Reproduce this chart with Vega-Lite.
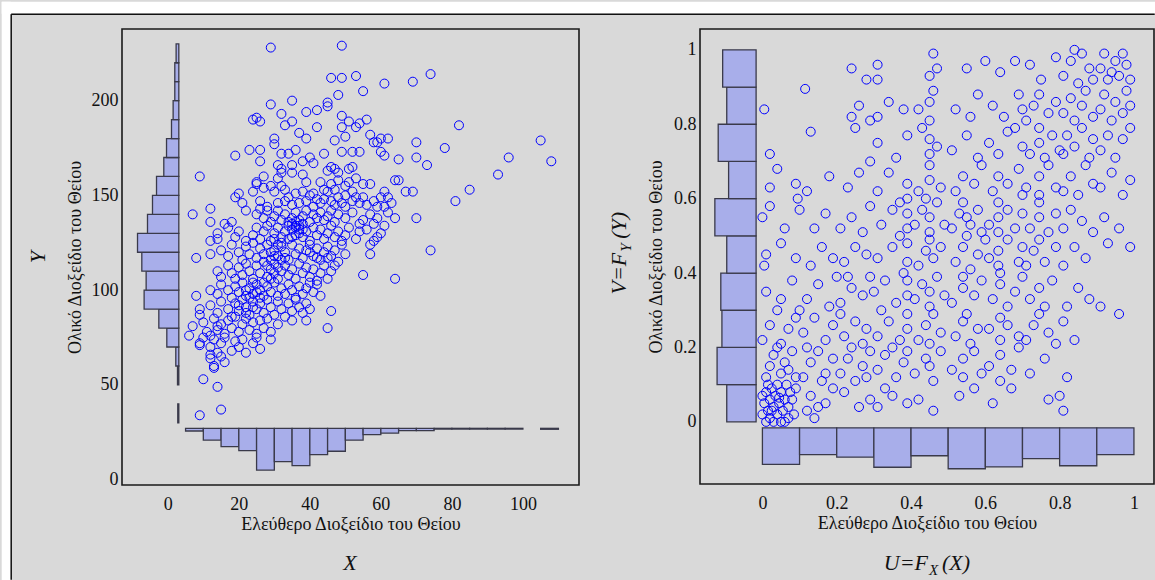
{
"$schema":"https://vega.github.io/schema/vega-lite/v6.json",
"background":"#d9d9d9",
"padding":0,
"bounds":"flush",
"spacing":121,
"config":{
 "view":{"stroke":"#1a1a1a","strokeWidth":1.6},
 "axis":{"domain":false,"ticks":false,"tickSize":0,"grid":false,"labelFont":"Liberation Serif","labelFontSize":18,"labelColor":"#111","titleFont":"Liberation Serif","titleFontSize":18,"titleFontWeight":"normal","titleColor":"#111"},
 "axisX":{"labelPadding":10,"titlePadding":2},
 "axisY":{"labelPadding":4,"titlePadding":4}
},
"datasets":{
 "one":[{}],
 "yh1":[{"lo":30,"hi":40,"v":2.8},{"lo":50,"hi":60,"v":2.73},{"lo":60,"hi":70,"v":2.25},{"lo":70,"hi":80,"v":-0.28},{"lo":80,"hi":90,"v":-2.53},{"lo":90,"hi":100,"v":-6.67},{"lo":100,"hi":110,"v":-6.1},{"lo":110,"hi":120,"v":-7.32},{"lo":120,"hi":130,"v":-8.53},{"lo":130,"hi":140,"v":-5.72},{"lo":140,"hi":150,"v":-4.31},{"lo":150,"hi":160,"v":-3.18},{"lo":160,"hi":170,"v":-1.13},{"lo":170,"hi":180,"v":-0.36},{"lo":180,"hi":190,"v":1.04},{"lo":190,"hi":200,"v":1.5},{"lo":200,"hi":210,"v":1.97},{"lo":210,"hi":220,"v":1.97},{"lo":220,"hi":230,"v":2.34}],
 "xh1":[{"lo":5,"hi":10,"v":25.7},{"lo":10,"hi":15,"v":20.9},{"lo":15,"hi":20,"v":17.4},{"lo":20,"hi":25,"v":15.3},{"lo":25,"hi":30,"v":5.1},{"lo":30,"hi":35,"v":9.5},{"lo":35,"hi":40,"v":7.4},{"lo":40,"hi":45,"v":13.2},{"lo":45,"hi":50,"v":15.0},{"lo":50,"hi":55,"v":20.9},{"lo":55,"hi":60,"v":23.8},{"lo":60,"hi":65,"v":24.6},{"lo":65,"hi":70,"v":25.9},{"lo":70,"hi":75,"v":25.9},{"lo":75,"hi":80,"v":26.7},{"lo":80,"hi":85,"v":26.7},{"lo":85,"hi":90,"v":26.7},{"lo":90,"hi":95,"v":26.7},{"lo":95,"hi":100,"v":26.7},{"lo":105,"hi":110,"v":26.6}],
 "yh2":[{"lo":0,"hi":0.1,"v":-0.096},{"lo":0.1,"hi":0.2,"v":-0.122},{"lo":0.2,"hi":0.3,"v":-0.109},{"lo":0.3,"hi":0.4,"v":-0.112},{"lo":0.4,"hi":0.5,"v":-0.096},{"lo":0.5,"hi":0.6,"v":-0.128},{"lo":0.6,"hi":0.7,"v":-0.091},{"lo":0.7,"hi":0.8,"v":-0.119},{"lo":0.8,"hi":0.9,"v":-0.096},{"lo":0.9,"hi":1.0,"v":-0.107}],
 "xh2":[{"lo":0,"hi":0.1,"v":-0.114},{"lo":0.1,"hi":0.2,"v":-0.088},{"lo":0.2,"hi":0.3,"v":-0.095},{"lo":0.3,"hi":0.4,"v":-0.122},{"lo":0.4,"hi":0.5,"v":-0.091},{"lo":0.5,"hi":0.6,"v":-0.126},{"lo":0.6,"hi":0.7,"v":-0.121},{"lo":0.7,"hi":0.8,"v":-0.099},{"lo":0.8,"hi":0.9,"v":-0.118},{"lo":0.9,"hi":1.0,"v":-0.088}],
 "p1":[
{"x":29,"y":228},{"x":49,"y":229},{"x":74,"y":214},{"x":69,"y":210},{"x":61,"y":209},{"x":53,"y":213},{"x":49,"y":212},{"x":46,"y":212},{"x":55,"y":205},{"x":48,"y":203},{"x":45,"y":199},{"x":45,"y":197},{"x":35,"y":200},{"x":29,"y":198},{"x":39,"y":194},{"x":42,"y":195},{"x":32,"y":193},{"x":49,"y":192},{"x":25,"y":191},{"x":24,"y":190},{"x":26,"y":189},{"x":35,"y":189},{"x":33,"y":187},{"x":42,"y":186},{"x":51,"y":189},{"x":53,"y":186},{"x":56,"y":190},{"x":54,"y":188},{"x":82,"y":187},{"x":37,"y":183},{"x":30,"y":180},{"x":30,"y":177},{"x":39,"y":180},{"x":49,"y":186},{"x":47,"y":179},{"x":50,"y":181},{"x":57,"y":182},{"x":58,"y":178},{"x":60,"y":180},{"x":62,"y":180},{"x":59,"y":178},{"x":70,"y":178},{"x":78,"y":175},{"x":105,"y":179},{"x":96,"y":170},{"x":108,"y":168},{"x":93,"y":161},{"x":85,"y":153},{"x":81,"y":147},{"x":73,"y":166},{"x":70,"y":170},{"x":65,"y":169},{"x":61,"y":171},{"x":60,"y":173},{"x":54,"y":173},{"x":52,"y":173},{"x":49,"y":173},{"x":44,"y":172},{"x":36,"y":174},{"x":34,"y":172},{"x":32,"y":172},{"x":26,"y":174},{"x":23,"y":174},{"x":19,"y":171},{"x":26,"y":168},{"x":31,"y":166},{"x":32,"y":164},{"x":35,"y":166},{"x":38,"y":168},{"x":40,"y":170},{"x":41,"y":167},{"x":38,"y":161},{"x":35,"y":162},{"x":32,"y":162},{"x":27,"y":160},{"x":9,"y":160},{"x":25,"y":157},{"x":25,"y":156},{"x":20,"y":151},{"x":24,"y":152},{"x":29,"y":155},{"x":32,"y":155},{"x":36,"y":151},{"x":34,"y":149},{"x":40,"y":150},{"x":42,"y":148},{"x":44,"y":153},{"x":45,"y":152},{"x":47,"y":153},{"x":50,"y":155},{"x":51,"y":157},{"x":53,"y":159},{"x":47,"y":164},{"x":45,"y":163},{"x":46,"y":165},{"x":48,"y":162},{"x":51,"y":164},{"x":52,"y":165},{"x":57,"y":156},{"x":64,"y":158},{"x":65,"y":158},{"x":67,"y":152},{"x":69,"y":152},{"x":61,"y":152},{"x":60,"y":149},{"x":63,"y":146},{"x":61,"y":144},{"x":59,"y":144},{"x":56,"y":145},{"x":53,"y":149},
{"x":64,"y":138},{"x":61,"y":134},{"x":59,"y":128},{"x":57,"y":124},{"x":57,"y":119},{"x":70,"y":138},{"x":74,"y":121},{"x":55,"y":108},{"x":64,"y":106},{"x":46,"y":89},{"x":45,"y":80},{"x":39,"y":84},
{"x":7,"y":140},{"x":12,"y":143},{"x":12,"y":136},{"x":19,"y":149},{"x":22,"y":142},{"x":16,"y":135},{"x":18,"y":136},{"x":8,"y":117},{"x":12,"y":119},{"x":12,"y":126},{"x":14,"y":130},{"x":8,"y":97},{"x":9,"y":87},{"x":6,"y":76},{"x":7,"y":81},{"x":9,"y":71},{"x":10,"y":53},{"x":14,"y":49},{"x":13,"y":59},{"x":9,"y":34},{"x":15,"y":37},{"x":12,"y":66},{"x":15,"y":65},{"x":12,"y":76},{"x":14,"y":81},
{"x":27,"y":154},{"x":30,"y":152},{"x":33,"y":153},{"x":38,"y":152},{"x":41,"y":151},{"x":43,"y":157},{"x":46,"y":156},{"x":48,"y":158},{"x":39,"y":157},{"x":31,"y":159},{"x":50,"y":150},{"x":52,"y":152},{"x":55,"y":156},
{"x":21,"y":146},{"x":26,"y":147},{"x":28,"y":144},{"x":31,"y":146},{"x":33,"y":147},{"x":35,"y":145},{"x":37,"y":146},{"x":39,"y":147},{"x":41,"y":144},{"x":43,"y":146},{"x":44,"y":148},{"x":46,"y":147},{"x":47,"y":145},{"x":48,"y":149},{"x":49,"y":146},{"x":50,"y":144},{"x":52,"y":147},{"x":54,"y":146},{"x":55,"y":149},{"x":58,"y":147},{"x":62,"y":149},
{"x":25,"y":140},{"x":27,"y":138},{"x":28,"y":142},{"x":29,"y":136},{"x":30,"y":139},{"x":31,"y":142},{"x":32,"y":137},{"x":33,"y":140},{"x":34,"y":136},{"x":35,"y":138},{"x":36,"y":141},{"x":37,"y":137},{"x":38,"y":139},{"x":39,"y":142},{"x":40,"y":136},{"x":41,"y":140},{"x":42,"y":138},{"x":43,"y":141},{"x":44,"y":137},{"x":45,"y":139},{"x":46,"y":142},{"x":47,"y":136},{"x":48,"y":140},{"x":50,"y":138},{"x":52,"y":141},{"x":55,"y":137},{"x":57,"y":140},{"x":59,"y":138},{"x":62,"y":141},{"x":58,"y":135},{"x":54,"y":135},{"x":26,"y":143},{"x":35,"y":135},{"x":36,"y":134},{"x":37,"y":132},{"x":38,"y":135},
{"x":14,"y":127},{"x":17,"y":133},{"x":19,"y":128},{"x":20,"y":131},{"x":22,"y":126},{"x":24,"y":129},{"x":25,"y":133},{"x":26,"y":127},{"x":27,"y":131},{"x":28,"y":134},{"x":29,"y":126},{"x":30,"y":130},{"x":31,"y":133},{"x":32,"y":128},{"x":33,"y":131},{"x":34,"y":127},{"x":35,"y":132},{"x":36,"y":129},{"x":37,"y":134},{"x":38,"y":128},{"x":39,"y":131},{"x":40,"y":126},{"x":41,"y":133},{"x":42,"y":129},{"x":43,"y":132},{"x":44,"y":127},{"x":45,"y":130},{"x":46,"y":134},{"x":47,"y":128},{"x":48,"y":131},{"x":49,"y":126},{"x":50,"y":129},{"x":51,"y":133},{"x":53,"y":127},{"x":54,"y":131},{"x":56,"y":132},{"x":58,"y":126},{"x":60,"y":130},{"x":35,"y":128},{"x":36,"y":133},{"x":37,"y":130},{"x":36,"y":136},{"x":38,"y":132},{"x":34,"y":134},{"x":30,"y":127},{"x":32,"y":125},
{"x":15,"y":121},{"x":17,"y":118},{"x":18,"y":124},{"x":20,"y":120},{"x":21,"y":116},{"x":22,"y":123},{"x":23,"y":119},{"x":24,"y":125},{"x":25,"y":117},{"x":26,"y":122},{"x":27,"y":119},{"x":28,"y":124},{"x":29,"y":116},{"x":30,"y":121},{"x":31,"y":118},{"x":32,"y":123},{"x":33,"y":120},{"x":34,"y":116},{"x":35,"y":124},{"x":36,"y":119},{"x":37,"y":122},{"x":38,"y":117},{"x":39,"y":121},{"x":40,"y":124},{"x":41,"y":118},{"x":42,"y":122},{"x":43,"y":116},{"x":44,"y":120},{"x":45,"y":123},{"x":46,"y":118},{"x":47,"y":121},{"x":48,"y":115},{"x":49,"y":124},{"x":50,"y":119},{"x":29,"y":120},{"x":30,"y":118},{"x":31,"y":124},{"x":32,"y":116},{"x":33,"y":117},{"x":40,"y":120},{"x":42,"y":117},{"x":45,"y":117},
{"x":14,"y":110},{"x":15,"y":107},{"x":17,"y":113},{"x":18,"y":109},{"x":19,"y":106},{"x":20,"y":112},{"x":21,"y":108},{"x":22,"y":114},{"x":23,"y":110},{"x":24,"y":106},{"x":25,"y":113},{"x":26,"y":109},{"x":27,"y":115},{"x":28,"y":107},{"x":29,"y":111},{"x":30,"y":114},{"x":31,"y":106},{"x":32,"y":110},{"x":33,"y":113},{"x":34,"y":108},{"x":35,"y":111},{"x":36,"y":106},{"x":37,"y":114},{"x":38,"y":109},{"x":39,"y":112},{"x":40,"y":107},{"x":41,"y":111},{"x":42,"y":105},{"x":43,"y":109},{"x":44,"y":113},{"x":45,"y":106},{"x":46,"y":110},{"x":47,"y":113},{"x":30,"y":109},{"x":31,"y":112},{"x":29,"y":106},{"x":28,"y":113},
{"x":12,"y":100},{"x":14,"y":98},{"x":15,"y":103},{"x":17,"y":100},{"x":18,"y":96},{"x":19,"y":102},{"x":20,"y":99},{"x":21,"y":104},{"x":22,"y":97},{"x":23,"y":101},{"x":24,"y":98},{"x":25,"y":103},{"x":26,"y":100},{"x":27,"y":97},{"x":28,"y":102},{"x":29,"y":99},{"x":30,"y":104},{"x":31,"y":97},{"x":32,"y":101},{"x":33,"y":98},{"x":34,"y":103},{"x":35,"y":100},{"x":36,"y":96},{"x":37,"y":102},{"x":38,"y":98},{"x":39,"y":101},{"x":40,"y":104},{"x":41,"y":99},{"x":42,"y":103},{"x":43,"y":97},{"x":23,"y":96},{"x":24,"y":104},{"x":22,"y":100},{"x":26,"y":96},{"x":27,"y":104},{"x":25,"y":99},
{"x":9,"y":90},{"x":12,"y":92},{"x":14,"y":88},{"x":15,"y":94},{"x":17,"y":90},{"x":18,"y":86},{"x":19,"y":93},{"x":20,"y":89},{"x":21,"y":95},{"x":22,"y":91},{"x":23,"y":87},{"x":24,"y":94},{"x":25,"y":90},{"x":26,"y":93},{"x":27,"y":88},{"x":28,"y":95},{"x":29,"y":91},{"x":30,"y":87},{"x":31,"y":94},{"x":32,"y":90},{"x":33,"y":86},{"x":34,"y":93},{"x":35,"y":89},{"x":36,"y":95},{"x":37,"y":91},{"x":38,"y":88},{"x":39,"y":93},{"x":40,"y":90},{"x":20,"y":92},{"x":22,"y":88},{"x":24,"y":91},
{"x":10,"y":83},{"x":11,"y":78},{"x":13,"y":85},{"x":14,"y":79},{"x":15,"y":82},{"x":16,"y":77},{"x":17,"y":84},{"x":18,"y":80},{"x":19,"y":86},{"x":20,"y":78},{"x":21,"y":82},{"x":22,"y":85},{"x":23,"y":79},{"x":24,"y":83},{"x":25,"y":77},{"x":26,"y":84},{"x":27,"y":80},{"x":28,"y":85},{"x":29,"y":78},{"x":31,"y":82},{"x":35,"y":84},
{"x":9,"y":72},{"x":10,"y":75},{"x":12,"y":70},{"x":13,"y":74},{"x":14,"y":67},{"x":15,"y":72},{"x":16,"y":75},{"x":18,"y":68},{"x":19,"y":73},{"x":20,"y":70},{"x":21,"y":74},{"x":22,"y":67},{"x":24,"y":72},{"x":25,"y":75},{"x":26,"y":69},{"x":29,"y":74},
{"x":12,"y":64},{"x":13,"y":60},{"x":16,"y":62}
 ],
 "p2":[
{"u":0.0,"v":0.02},{"u":0.005,"v":0.05},{"u":0.01,"v":0.0},{"u":0.01,"v":0.08},{"u":0.015,"v":0.03},{"u":0.02,"v":0.06},{"u":0.02,"v":0.01},{"u":0.025,"v":0.09},{"u":0.03,"v":0.04},{"u":0.03,"v":0.0},{"u":0.035,"v":0.07},{"u":0.04,"v":0.02},{"u":0.04,"v":0.1},{"u":0.045,"v":0.05},{"u":0.05,"v":0.08},{"u":0.05,"v":0.0},{"u":0.055,"v":0.03},{"u":0.06,"v":0.06},{"u":0.065,"v":0.1},{"u":0.07,"v":0.01},{"u":0.07,"v":0.04},{"u":0.075,"v":0.08},{"u":0.08,"v":0.06},{"u":0.085,"v":0.02},{"u":0.09,"v":0.09},{"u":0.0,"v":0.07},{"u":0.015,"v":0.1},{"u":0.025,"v":0.03},{"u":0.06,"v":0.0},{"u":0.045,"v":0.065},
{"u":0.01,"v":0.12},{"u":0.02,"v":0.15},{"u":0.03,"v":0.18},{"u":0.05,"v":0.13},{"u":0.06,"v":0.16},{"u":0.08,"v":0.19},{"u":0.09,"v":0.12},{"u":0.04,"v":0.2},{"u":0.07,"v":0.14},
{"u":0.0,"v":0.22},{"u":0.02,"v":0.26},{"u":0.04,"v":0.3},{"u":0.07,"v":0.25},{"u":0.09,"v":0.28},{"u":0.05,"v":0.21},
{"u":0.01,"v":0.35},{"u":0.05,"v":0.33},{"u":0.08,"v":0.38},{"u":0.1,"v":0.3},
{"u":0.005,"v":0.42},{"u":0.01,"v":0.45},{"u":0.05,"v":0.48},{"u":0.09,"v":0.44},
{"u":0.0,"v":0.55},{"u":0.02,"v":0.58},{"u":0.06,"v":0.52},{"u":0.1,"v":0.57},
{"u":0.02,"v":0.63},{"u":0.04,"v":0.68},{"u":0.09,"v":0.64},{"u":0.095,"v":0.6},
{"u":0.02,"v":0.72},{"u":0.005,"v":0.84},
{"u":0.12,"v":0.03},{"u":0.14,"v":0.01},{"u":0.13,"v":0.07},{"u":0.17,"v":0.05},{"u":0.19,"v":0.09},{"u":0.15,"v":0.04},
{"u":0.11,"v":0.12},{"u":0.13,"v":0.16},{"u":0.15,"v":0.19},{"u":0.17,"v":0.13},{"u":0.19,"v":0.17},{"u":0.12,"v":0.2},{"u":0.16,"v":0.11},
{"u":0.11,"v":0.24},{"u":0.14,"v":0.28},{"u":0.17,"v":0.22},{"u":0.19,"v":0.26},
{"u":0.12,"v":0.33},{"u":0.15,"v":0.37},{"u":0.18,"v":0.31},{"u":0.2,"v":0.39},
{"u":0.13,"v":0.42},{"u":0.16,"v":0.47},{"u":0.19,"v":0.44},
{"u":0.14,"v":0.52},{"u":0.17,"v":0.56},{"u":0.12,"v":0.62},{"u":0.18,"v":0.66},{"u":0.13,"v":0.78},{"u":0.115,"v":0.895},
{"u":0.26,"v":0.04},{"u":0.29,"v":0.06},{"u":0.22,"v":0.08},
{"u":0.21,"v":0.13},{"u":0.23,"v":0.17},{"u":0.25,"v":0.11},{"u":0.27,"v":0.15},{"u":0.29,"v":0.19},{"u":0.24,"v":0.2},{"u":0.28,"v":0.12},
{"u":0.22,"v":0.23},{"u":0.25,"v":0.27},{"u":0.28,"v":0.25},{"u":0.21,"v":0.29},{"u":0.27,"v":0.21},
{"u":0.21,"v":0.32},{"u":0.24,"v":0.36},{"u":0.27,"v":0.34},{"u":0.29,"v":0.39},{"u":0.23,"v":0.39},
{"u":0.22,"v":0.43},{"u":0.25,"v":0.47},{"u":0.28,"v":0.45},
{"u":0.21,"v":0.52},{"u":0.24,"v":0.55},{"u":0.27,"v":0.51},{"u":0.29,"v":0.58},
{"u":0.23,"v":0.63},{"u":0.26,"v":0.67},{"u":0.29,"v":0.7},{"u":0.25,"v":0.79},
{"u":0.24,"v":0.82},{"u":0.26,"v":0.85},{"u":0.29,"v":0.81},{"u":0.24,"v":0.95},{"u":0.28,"v":0.92},
{"u":0.31,"v":0.04},{"u":0.35,"v":0.07},{"u":0.39,"v":0.05},{"u":0.33,"v":0.09},
{"u":0.31,"v":0.14},{"u":0.33,"v":0.18},{"u":0.36,"v":0.12},{"u":0.38,"v":0.16},{"u":0.39,"v":0.19},{"u":0.35,"v":0.2},
{"u":0.31,"v":0.23},{"u":0.34,"v":0.27},{"u":0.37,"v":0.22},{"u":0.39,"v":0.25},{"u":0.39,"v":0.29},{"u":0.32,"v":0.3},
{"u":0.3,"v":0.35},{"u":0.33,"v":0.38},{"u":0.36,"v":0.32},{"u":0.39,"v":0.34},{"u":0.39,"v":0.38},{"u":0.38,"v":0.4},
{"u":0.31,"v":0.44},{"u":0.35,"v":0.47},{"u":0.39,"v":0.43},{"u":0.39,"v":0.48},{"u":0.37,"v":0.5},
{"u":0.32,"v":0.53},{"u":0.35,"v":0.57},{"u":0.39,"v":0.52},{"u":0.39,"v":0.56},{"u":0.37,"v":0.59},
{"u":0.31,"v":0.62},{"u":0.34,"v":0.67},{"u":0.39,"v":0.64},{"u":0.39,"v":0.6},
{"u":0.31,"v":0.75},{"u":0.36,"v":0.71},{"u":0.39,"v":0.77},
{"u":0.31,"v":0.82},{"u":0.34,"v":0.86},{"u":0.38,"v":0.84},{"u":0.31,"v":0.96},{"u":0.31,"v":0.92},
{"u":0.42,"v":0.06},{"u":0.46,"v":0.03},
{"u":0.41,"v":0.13},{"u":0.44,"v":0.17},{"u":0.46,"v":0.11},{"u":0.48,"v":0.19},{"u":0.45,"v":0.15},
{"u":0.42,"v":0.22},{"u":0.44,"v":0.26},{"u":0.46,"v":0.29},{"u":0.48,"v":0.24},{"u":0.45,"v":0.21},
{"u":0.41,"v":0.33},{"u":0.43,"v":0.37},{"u":0.45,"v":0.31},{"u":0.45,"v":0.35},{"u":0.47,"v":0.39},{"u":0.49,"v":0.34},
{"u":0.42,"v":0.42},{"u":0.44,"v":0.46},{"u":0.45,"v":0.49},{"u":0.46,"v":0.44},{"u":0.48,"v":0.47},
{"u":0.41,"v":0.53},{"u":0.43,"v":0.57},{"u":0.45,"v":0.51},{"u":0.45,"v":0.55},{"u":0.47,"v":0.59},{"u":0.49,"v":0.53},
{"u":0.42,"v":0.62},{"u":0.45,"v":0.65},{"u":0.45,"v":0.69},{"u":0.48,"v":0.63},{"u":0.44,"v":0.6},
{"u":0.45,"v":0.72},{"u":0.45,"v":0.76},{"u":0.43,"v":0.79},{"u":0.47,"v":0.74},
{"u":0.45,"v":0.81},{"u":0.45,"v":0.86},{"u":0.46,"v":0.89},{"u":0.42,"v":0.84},
{"u":0.46,"v":0.99},{"u":0.47,"v":0.95},{"u":0.45,"v":0.93},
{"u":0.53,"v":0.07},{"u":0.57,"v":0.09},
{"u":0.51,"v":0.14},{"u":0.54,"v":0.12},{"u":0.54,"v":0.17},{"u":0.57,"v":0.19},{"u":0.59,"v":0.13},
{"u":0.52,"v":0.23},{"u":0.54,"v":0.27},{"u":0.56,"v":0.21},{"u":0.58,"v":0.25},{"u":0.55,"v":0.29},
{"u":0.51,"v":0.32},{"u":0.54,"v":0.36},{"u":0.54,"v":0.39},{"u":0.57,"v":0.34},{"u":0.59,"v":0.38},
{"u":0.52,"v":0.43},{"u":0.54,"v":0.47},{"u":0.56,"v":0.41},{"u":0.58,"v":0.45},{"u":0.6,"v":0.49},{"u":0.55,"v":0.5},
{"u":0.51,"v":0.52},{"u":0.53,"v":0.56},{"u":0.54,"v":0.59},{"u":0.56,"v":0.53},{"u":0.58,"v":0.57},{"u":0.59,"v":0.51},{"u":0.55,"v":0.55},
{"u":0.52,"v":0.62},{"u":0.54,"v":0.66},{"u":0.57,"v":0.64},{"u":0.59,"v":0.69},
{"u":0.51,"v":0.73},{"u":0.55,"v":0.77},{"u":0.58,"v":0.71},
{"u":0.52,"v":0.84},{"u":0.56,"v":0.82},{"u":0.58,"v":0.88},{"u":0.55,"v":0.95},{"u":0.6,"v":0.97},
{"u":0.62,"v":0.05},{"u":0.67,"v":0.09},
{"u":0.61,"v":0.15},{"u":0.64,"v":0.11},{"u":0.64,"v":0.18},{"u":0.67,"v":0.14},{"u":0.69,"v":0.2},
{"u":0.61,"v":0.25},{"u":0.64,"v":0.22},{"u":0.64,"v":0.28},{"u":0.66,"v":0.26},{"u":0.69,"v":0.23},
{"u":0.62,"v":0.33},{"u":0.64,"v":0.37},{"u":0.66,"v":0.31},{"u":0.68,"v":0.35},{"u":0.7,"v":0.39},{"u":0.64,"v":0.4},
{"u":0.61,"v":0.44},{"u":0.635,"v":0.42},{"u":0.635,"v":0.46},{"u":0.66,"v":0.49},{"u":0.69,"v":0.43},{"u":0.7,"v":0.47},
{"u":0.61,"v":0.53},{"u":0.635,"v":0.51},{"u":0.635,"v":0.55},{"u":0.635,"v":0.59},{"u":0.66,"v":0.57},{"u":0.68,"v":0.52},{"u":0.7,"v":0.56},
{"u":0.62,"v":0.62},{"u":0.635,"v":0.66},{"u":0.66,"v":0.64},{"u":0.7,"v":0.61},{"u":0.69,"v":0.68},
{"u":0.61,"v":0.75},{"u":0.635,"v":0.72},{"u":0.66,"v":0.78},{"u":0.7,"v":0.74},{"u":0.68,"v":0.79},
{"u":0.62,"v":0.85},{"u":0.65,"v":0.82},{"u":0.69,"v":0.88},{"u":0.7,"v":0.84},{"u":0.64,"v":0.94},{"u":0.68,"v":0.97},
{"u":0.77,"v":0.06},{"u":0.72,"v":0.13},{"u":0.76,"v":0.17},
{"u":0.71,"v":0.22},{"u":0.73,"v":0.26},{"u":0.745,"v":0.29},{"u":0.77,"v":0.24},{"u":0.79,"v":0.21},
{"u":0.72,"v":0.33},{"u":0.745,"v":0.36},{"u":0.76,"v":0.31},{"u":0.78,"v":0.38},
{"u":0.71,"v":0.42},{"u":0.73,"v":0.46},{"u":0.745,"v":0.49},{"u":0.76,"v":0.43},{"u":0.79,"v":0.47},
{"u":0.72,"v":0.52},{"u":0.745,"v":0.55},{"u":0.745,"v":0.59},{"u":0.77,"v":0.51},{"u":0.79,"v":0.56},
{"u":0.71,"v":0.63},{"u":0.745,"v":0.61},{"u":0.745,"v":0.66},{"u":0.77,"v":0.69},{"u":0.79,"v":0.63},
{"u":0.72,"v":0.72},{"u":0.745,"v":0.75},{"u":0.745,"v":0.79},{"u":0.76,"v":0.71},{"u":0.78,"v":0.77},{"u":0.8,"v":0.73},
{"u":0.71,"v":0.81},{"u":0.73,"v":0.85},{"u":0.745,"v":0.88},{"u":0.77,"v":0.83},{"u":0.79,"v":0.86},
{"u":0.72,"v":0.96},{"u":0.75,"v":0.92},{"u":0.79,"v":0.98},
{"u":0.8,"v":0.07},{"u":0.81,"v":0.03},{"u":0.82,"v":0.12},{"u":0.81,"v":0.27},{"u":0.84,"v":0.22},
{"u":0.82,"v":0.31},{"u":0.85,"v":0.36},{"u":0.88,"v":0.33},
{"u":0.81,"v":0.42},{"u":0.84,"v":0.47},{"u":0.87,"v":0.44},
{"u":0.81,"v":0.52},{"u":0.83,"v":0.57},{"u":0.86,"v":0.54},{"u":0.89,"v":0.51},
{"u":0.81,"v":0.62},{"u":0.83,"v":0.66},{"u":0.85,"v":0.61},{"u":0.87,"v":0.69},{"u":0.89,"v":0.64},
{"u":0.81,"v":0.72},{"u":0.82,"v":0.77},{"u":0.84,"v":0.74},{"u":0.86,"v":0.79},{"u":0.88,"v":0.71},{"u":0.89,"v":0.76},
{"u":0.81,"v":0.83},{"u":0.83,"v":0.87},{"u":0.84,"v":0.81},{"u":0.86,"v":0.85},{"u":0.87,"v":0.89},{"u":0.89,"v":0.82},
{"u":0.81,"v":0.93},{"u":0.83,"v":0.97},{"u":0.85,"v":0.91},{"u":0.86,"v":0.99},{"u":0.88,"v":0.95},{"u":0.89,"v":0.92},{"u":0.84,"v":1.0},
{"u":0.96,"v":0.29},{"u":0.91,"v":0.31},{"u":0.99,"v":0.47},{"u":0.93,"v":0.48},{"u":0.92,"v":0.55},{"u":0.96,"v":0.52},
{"u":0.91,"v":0.63},{"u":0.94,"v":0.67},{"u":0.97,"v":0.61},{"u":0.99,"v":0.65},
{"u":0.91,"v":0.73},{"u":0.93,"v":0.77},{"u":0.95,"v":0.71},{"u":0.97,"v":0.76},{"u":0.99,"v":0.79},
{"u":0.91,"v":0.84},{"u":0.92,"v":0.88},{"u":0.94,"v":0.81},{"u":0.95,"v":0.86},{"u":0.97,"v":0.83},{"u":0.98,"v":0.89},{"u":0.99,"v":0.85},
{"u":0.91,"v":0.95},{"u":0.92,"v":0.99},{"u":0.93,"v":0.92},{"u":0.95,"v":0.97},{"u":0.96,"v":0.93},{"u":0.97,"v":0.99},{"u":0.98,"v":0.96},{"u":0.99,"v":0.92},{"u":0.94,"v":0.94}
 ]
},
"hconcat":[
 {"width":457,"height":456,
  "layer":[
   {"data":{"name":"one"},"mark":{"type":"rect","fill":"white"},
    "encoding":{
     "x":{"datum":-46.78,"type":"quantitative","title":"Ελεύθερο Διοξείδιο του Θείου","scale":{"domain":[-12.9,115.8],"nice":false,"zero":false},"axis":{"values":[0,20,40,60,80,100]}},
     "x2":{"datum":-44.25},
     "y":{"datum":252.2,"type":"quantitative","title":"Ολικό Διοξείδιο του Θείου","scale":{"domain":[-2.8,237.8],"nice":false,"zero":false},"axis":{"values":[0,50,100,150,200],"titlePadding":7}},
     "y2":{"datum":-53.82}}},
   {"data":{"name":"one"},"mark":{"type":"rect","fill":"white"},
    "encoding":{
     "x":{"datum":-46.78,"type":"quantitative","title":"Ελεύθερο Διοξείδιο του Θείου"},
     "x2":{"datum":278.49},
     "y":{"datum":252.2,"type":"quantitative","title":"Ολικό Διοξείδιο του Θείου"},
     "y2":{"datum":245.87}}},
   {"data":{"name":"one"},"mark":{"type":"rule","stroke":"#111","strokeWidth":1.5},
    "encoding":{
     "x":{"datum":-44.1,"type":"quantitative","title":"Ελεύθερο Διοξείδιο του Θείου"},
     "y":{"datum":245.61,"type":"quantitative","title":"Ολικό Διοξείδιο του Θείου"},
     "y2":{"datum":-52.77}}},
   {"data":{"name":"one"},"mark":{"type":"rule","stroke":"#111","strokeWidth":1.5},
    "encoding":{
     "x":{"datum":-44.1,"type":"quantitative","title":"Ελεύθερο Διοξείδιο του Θείου"},
     "x2":{"datum":277.93},
     "y":{"datum":245.61,"type":"quantitative","title":"Ολικό Διοξείδιο του Θείου"}}},
   {"data":{"name":"yh1"},"mark":{"type":"rect","fill":"#a8aeea","stroke":"#3a3a4a","strokeWidth":1.3},
    "encoding":{
     "x":{"field":"v","type":"quantitative","title":"Ελεύθερο Διοξείδιο του Θείου"},
     "x2":{"datum":3.1},
     "y":{"field":"lo","type":"quantitative","title":"Ολικό Διοξείδιο του Θείου"},
     "y2":{"field":"hi"}}},
   {"data":{"name":"xh1"},"mark":{"type":"rect","fill":"#a8aeea","stroke":"#3a3a4a","strokeWidth":1.3},
    "encoding":{
     "x":{"field":"lo","type":"quantitative","title":"Ελεύθερο Διοξείδιο του Θείου"},
     "x2":{"field":"hi"},
     "y":{"field":"v","type":"quantitative","title":"Ολικό Διοξείδιο του Θείου"},
     "y2":{"datum":27.1}}},
   {"data":{"name":"p1"},"mark":{"type":"point","shape":"circle","filled":false,"stroke":"#0000ff","strokeWidth":1,"size":81,"opacity":1},
    "encoding":{
     "x":{"field":"x","type":"quantitative","title":"Ελεύθερο Διοξείδιο του Θείου"},
     "y":{"field":"y","type":"quantitative","title":"Ολικό Διοξείδιο του Θείου"}}},
   {"data":{"name":"one"},"mark":{"type":"text","text":"X","font":"Liberation Serif","fontStyle":"italic","fontSize":22,"align":"center","baseline":"alphabetic","color":"#111"},
    "encoding":{"x":{"datum":51.3,"type":"quantitative","title":"Ελεύθερο Διοξείδιο του Θείου"},"y":{"datum":-47.6,"type":"quantitative","title":"Ολικό Διοξείδιο του Θείου"}}},
   {"data":{"name":"one"},"mark":{"type":"text","text":"Y","font":"Liberation Serif","fontStyle":"italic","fontSize":22,"align":"center","baseline":"alphabetic","angle":270,"color":"#111"},
    "encoding":{"x":{"datum":-34.7,"type":"quantitative","title":"Ελεύθερο Διοξείδιο του Θείου"},"y":{"datum":117.5,"type":"quantitative","title":"Ολικό Διοξείδιο του Θείου"}}}
  ]},
 {"width":454,"height":455,
  "layer":[
   {"data":{"name":"yh2"},"mark":{"type":"rect","fill":"#a8aeea","stroke":"#3a3a4a","strokeWidth":1.3},
    "encoding":{
     "x":{"field":"v","type":"quantitative","title":"Ελεύθερο Διοξείδιο του Θείου","scale":{"domain":[-0.168,1.054],"nice":false,"zero":false},"axis":{"values":[0,0.2,0.4,0.6,0.8,1],"format":"~g"}},
     "x2":{"datum":-0.017},
     "y":{"field":"lo","type":"quantitative","title":"Ολικό Διοξείδιο του Θείου","scale":{"domain":[-0.167,1.056],"nice":false,"zero":false},"axis":{"values":[0,0.2,0.4,0.6,0.8,1],"format":"~g","titlePadding":8}},
     "y2":{"field":"hi"}}},
   {"data":{"name":"xh2"},"mark":{"type":"rect","fill":"#a8aeea","stroke":"#3a3a4a","strokeWidth":1.3},
    "encoding":{
     "x":{"field":"lo","type":"quantitative","title":"Ελεύθερο Διοξείδιο του Θείου"},
     "x2":{"field":"hi"},
     "y":{"field":"v","type":"quantitative","title":"Ολικό Διοξείδιο του Θείου"},
     "y2":{"datum":-0.016}}},
   {"data":{"name":"p2"},"mark":{"type":"point","shape":"circle","filled":false,"stroke":"#0000ff","strokeWidth":1,"size":81,"opacity":1},
    "encoding":{
     "x":{"field":"u","type":"quantitative","title":"Ελεύθερο Διοξείδιο του Θείου"},
     "y":{"field":"v","type":"quantitative","title":"Ολικό Διοξείδιο του Θείου"}}},
   {"data":{"name":"one"},"mark":{"type":"text","text":"U=F","font":"Liberation Serif","fontStyle":"italic","fontSize":22,"align":"right","baseline":"alphabetic","color":"#111"},
    "encoding":{"x":{"datum":0.4455,"type":"quantitative","title":"Ελεύθερο Διοξείδιο του Θείου"},"y":{"datum":-0.399,"type":"quantitative","title":"Ολικό Διοξείδιο του Θείου"}}},
   {"data":{"name":"one"},"mark":{"type":"text","text":"X","font":"Liberation Serif","fontStyle":"italic","fontSize":15,"align":"left","baseline":"alphabetic","color":"#111"},
    "encoding":{"x":{"datum":0.4482,"type":"quantitative","title":"Ελεύθερο Διοξείδιο του Θείου"},"y":{"datum":-0.412,"type":"quantitative","title":"Ολικό Διοξείδιο του Θείου"}}},
   {"data":{"name":"one"},"mark":{"type":"text","text":"(X)","font":"Liberation Serif","fontStyle":"italic","fontSize":22,"align":"left","baseline":"alphabetic","color":"#111"},
    "encoding":{"x":{"datum":0.4832,"type":"quantitative","title":"Ελεύθερο Διοξείδιο του Θείου"},"y":{"datum":-0.399,"type":"quantitative","title":"Ολικό Διοξείδιο του Θείου"}}},
   {"data":{"name":"one"},"mark":{"type":"text","text":"V=F","font":"Liberation Serif","fontStyle":"italic","fontSize":22,"align":"right","baseline":"alphabetic","angle":270,"color":"#111"},
    "encoding":{"x":{"datum":-0.3675,"type":"quantitative","title":"Ελεύθερο Διοξείδιο του Θείου"},"y":{"datum":0.4547,"type":"quantitative","title":"Ολικό Διοξείδιο του Θείου"}}},
   {"data":{"name":"one"},"mark":{"type":"text","text":"Y","font":"Liberation Serif","fontStyle":"italic","fontSize":15,"align":"left","baseline":"alphabetic","angle":270,"color":"#111"},
    "encoding":{"x":{"datum":-0.354,"type":"quantitative","title":"Ελεύθερο Διοξείδιο του Θείου"},"y":{"datum":0.4573,"type":"quantitative","title":"Ολικό Διοξείδιο του Θείου"}}},
   {"data":{"name":"one"},"mark":{"type":"text","text":"(Y)","font":"Liberation Serif","fontStyle":"italic","fontSize":22,"align":"left","baseline":"alphabetic","angle":270,"color":"#111"},
    "encoding":{"x":{"datum":-0.3675,"type":"quantitative","title":"Ελεύθερο Διοξείδιο του Θείου"},"y":{"datum":0.4923,"type":"quantitative","title":"Ολικό Διοξείδιο του Θείου"}}}
  ]}
]
}
